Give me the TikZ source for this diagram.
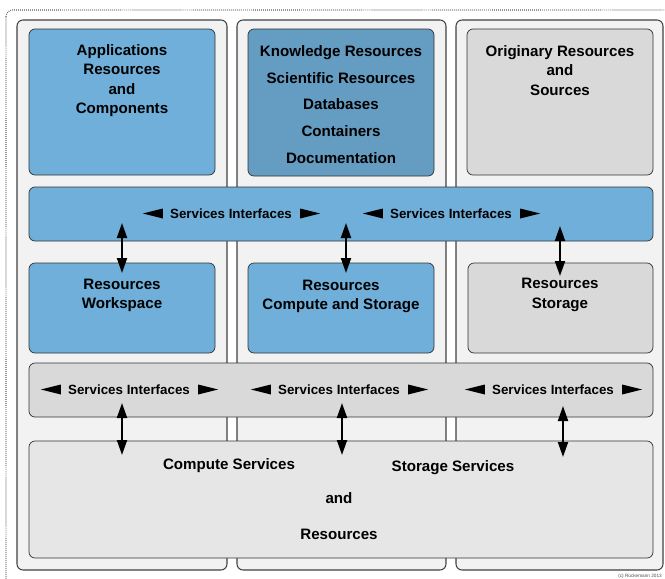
\documentclass[tikz,border=0pt]{standalone}
\usepackage{fontspec}
\setmainfont{Liberation Sans}
\usetikzlibrary{arrows.meta,fit}
\definecolor{azul}{RGB}{111,175,217}
\definecolor{azulesc}{RGB}{101,156,194}
\definecolor{cinza}{RGB}{217,217,217}
\definecolor{cinzacl}{RGB}{230,230,230}
\definecolor{fundo}{RGB}{242,242,242}
\newcommand{\seta}{\draw[{Triangle[length=0.45cm,width=0.3cm]}-{Triangle[length=0.45cm,width=0.3cm]},line width=1.7pt]}
\newcommand{\pontas}[1]{%
  \fill ([xshift=-0.21cm]#1.west) -- ++(0,-5) -- ++(-20,5) -- ++(20,5) -- cycle;
  \fill ([xshift=0.24cm]#1.east) -- ++(0,-5) -- ++(20,5) -- ++(-20,5) -- cycle;}
\tikzset{
  coluna/.style={draw=black!75,line width=0.9pt,fill=fundo,rounded corners=0.18cm,inner sep=0pt},
  caixa/.style={draw=black!80,line width=0.6pt,rounded corners=0.18cm,inner sep=0pt},
  rotulo/.style={font=\bfseries\fontsize{12.9}{16.4}\selectfont,align=center,inner sep=0pt},
  interf/.style={font=\bfseries\fontsize{11.4}{14}\selectfont,inner sep=0pt}
}

\begin{document}
\begin{tikzpicture}[x=0.03cm,y=-0.03cm]
      \useasboundingbox (0,0) rectangle (665,578);
      % moldura
      \draw[black!65,line width=1pt,dash pattern=on 0.6pt off 1.1pt,rounded corners=0.2cm]
        (6,10) rectangle (680,592);

      % colunas
      \node(colA) [coluna,fit={(17,20) (227,570)}] {};
      \node(colB) [coluna,fit={(237,20) (446,570)}] {};
      \node(colC) [coluna,fit={(456,20) (663,570)}] {};

      % nível superior
      \node(apps) [caixa,fill=azul,fit={(29,29) (215,175)}] {};
      \node(know) [caixa,fill=azulesc,fit={(248,29) (434,176)}] {};
      \node(orig) [caixa,fill=cinza,fit={(467,29) (653,175)}] {};

      \node(tApps) [rotulo] at (122,80.5) {Applications\\Resources\\and\\Components};
      \node(tKnow) [rotulo,font=\bfseries\fontsize{12.9}{22.8}\selectfont] at (341,104.5)
        {Knowledge Resources\\Scientific Resources\\Databases\\Containers\\Documentation};
      \node(tOrig) [rotulo] at (560,70.5) {Originary Resources\\and\\Sources};

      % interfaces 1
      \node(barA) [caixa,fill=azul,fit={(29,187) (653,241)}] {};
      \node(siA1) [interf] at (231,213.5) {Services Interfaces};
      \node(siA2) [interf] at (451,213.5) {Services Interfaces};
      \pontas{siA1}
      \pontas{siA2}

      % nível médio
      \node(work) [caixa,fill=azul,fit={(29,263) (215,353)}] {};
      \node(comp) [caixa,fill=azul,fit={(248,263) (434,353)}] {};
      \node(stor) [caixa,fill=cinza,fit={(468,263) (653,353)}] {};

      \node(tWork) [rotulo] at (122,295.5) {Resources\\Workspace};
      \node(tComp) [rotulo] at (341,296.5) {Resources\\Compute and Storage};
      \node(tStor) [rotulo] at (560,295) {Resources\\Storage};

      % interfaces 2
      \node(barB) [caixa,fill=cinza,fit={(29,363) (653,417)}] {};
      \node(siB1) [interf] at (129,389.5) {Services Interfaces};
      \node(siB2) [interf] at (339,389.5) {Services Interfaces};
      \node(siB3) [interf] at (553,389.5) {Services Interfaces};
      \pontas{siB1}
      \pontas{siB2}
      \pontas{siB3}

      % base
      \node(base) [caixa,fill=cinzacl,fit={(29,441) (653,558)}] {};
      \node(tCS)  [rotulo] at (229,465.5) {Compute Services};
      \node(tSS)  [rotulo] at (453,467.5) {Storage Services};
      \node(tAnd) [rotulo] at (339,498.5) {and};
      \node(tRes) [rotulo] at (339,534.5) {Resources};

      % setas
      \coordinate (a1) at (122,223);  \coordinate (b1) at (122,273);
      \coordinate (a2) at (346,223);  \coordinate (b2) at (346,273);
      \coordinate (a3) at (560,226);  \coordinate (b3) at (560,276);
      \coordinate (c1) at (122,403);  \coordinate (d1) at (122,455);
      \coordinate (c2) at (342,403);  \coordinate (d2) at (342,455);
      \coordinate (c3) at (563,406);  \coordinate (d3) at (563,457);

      \seta (a1) -- (b1);
      \seta (a2) -- (b2);
      \seta (a3) -- (b3);
      \seta (c1) -- (d1);
      \seta (c2) -- (d2);
      \seta (c3) -- (d3);

      \node(copy) [font=\fontsize{4}{5}\selectfont,text=black!70,inner sep=0pt] at (640,576) {(c) Rückemann 2013};
   \end{tikzpicture}
\end{document}
